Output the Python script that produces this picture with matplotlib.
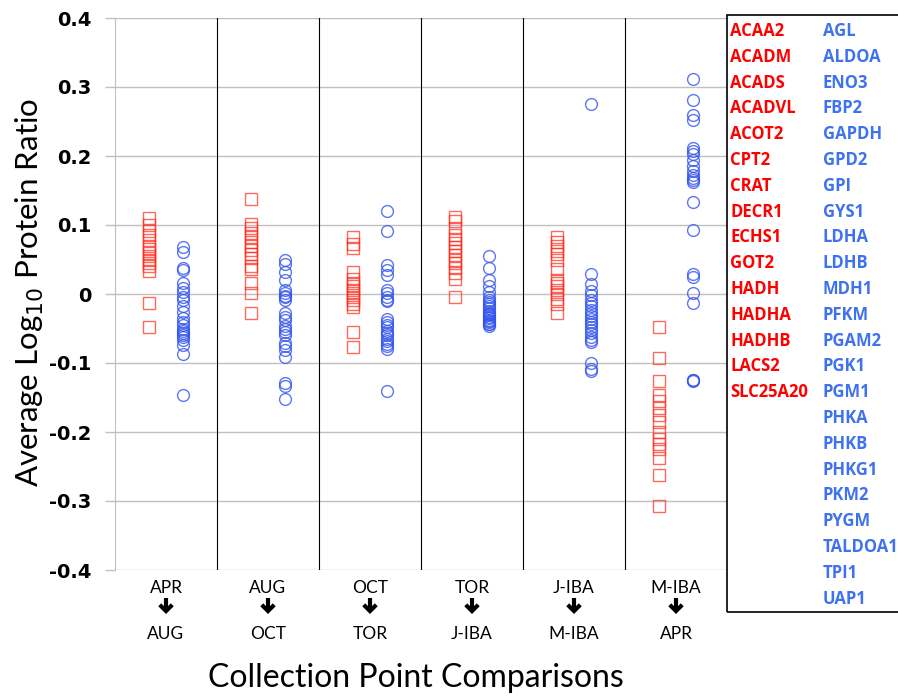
import matplotlib
matplotlib.use('Agg')
import matplotlib.pyplot as plt
from matplotlib.patches import Rectangle
import matplotlib.transforms as mtrans

# ---------------- data ----------------
comp_from = ["APR", "AUG", "OCT", "TOR", "J-IBA", "M-IBA"]
comp_to = ["AUG", "OCT", "TOR", "J-IBA", "M-IBA", "APR"]

red_genes = ["ACAA2", "ACADM", "ACADS", "ACADVL", "ACOT2", "CPT2", "CRAT", "DECR1",
             "ECHS1", "GOT2", "HADH", "HADHA", "HADHB", "LACS2", "SLC25A20"]
blue_genes = ["AGL", "ALDOA", "ENO3", "FBP2", "GAPDH", "GPD2", "GPI", "GYS1", "LDHA",
              "LDHB", "MDH1", "PFKM", "PGAM2", "PGK1", "PGM1", "PHKA", "PHKB", "PHKG1",
              "PKM2", "PYGM", "TALDOA1", "TPI1", "UAP1"]

red_apr_aug = [0.110, 0.100, 0.092, 0.085, 0.078, 0.070, 0.065, 0.060, 0.055, 0.050,
               0.045, 0.040, 0.033, -0.013, -0.048]
blue_apr_aug = [0.068, 0.061, 0.037, 0.035, 0.016, 0.008, 0.003, -0.004, -0.009, -0.018,
                -0.026, -0.035, -0.040, -0.045, -0.050, -0.054, -0.057, -0.060, -0.062,
                -0.067, -0.074, -0.087, -0.147]

red_aug_oct = [0.137, 0.102, 0.095, 0.088, 0.082, 0.076, 0.070, 0.064, 0.058, 0.052,
               0.040, 0.036, 0.016, 0.001, -0.028]
blue_aug_oct = [0.049, 0.043, 0.032, 0.021, 0.006, 0.001, -0.003, -0.005, -0.009, -0.028,
                -0.033, -0.038, -0.047, -0.050, -0.055, -0.059, -0.071, -0.076, -0.081,
                -0.091, -0.129, -0.134, -0.152]

red_oct_tor = [0.082, 0.072, 0.066, 0.032, 0.022, 0.016, 0.011, 0.006, 0.001, -0.004,
               -0.009, -0.014, -0.019, -0.055, -0.077]
blue_oct_tor = [0.120, 0.092, 0.042, 0.035, 0.028, 0.006, 0.001, -0.005, -0.008, -0.010,
                -0.036, -0.041, -0.045, -0.048, -0.053, -0.057, -0.060, -0.065, -0.068,
                -0.072, -0.076, -0.080, -0.140]

red_tor_jiba = [0.112, 0.106, 0.096, 0.085, 0.080, 0.074, 0.068, 0.063, 0.057, 0.050,
                0.045, 0.038, 0.031, 0.022, -0.005]
blue_tor_jiba = [0.055, 0.037, 0.021, 0.011, 0.003, -0.004, -0.008, -0.012, -0.015, -0.018,
                 -0.021, -0.024, -0.027, -0.029, -0.031, -0.033, -0.035, -0.037, -0.039,
                 -0.041, -0.043, -0.044, -0.046]

red_jiba_miba = [0.082, 0.076, 0.070, 0.063, 0.058, 0.050, 0.036, 0.020, 0.016, 0.012,
                 0.006, 0.000, -0.007, -0.014, -0.027]
blue_jiba_miba = [0.275, 0.029, 0.015, 0.004, -0.002, -0.008, -0.013, -0.018, -0.023,
                  -0.027, -0.032, -0.036, -0.040, -0.044, -0.048, -0.052, -0.057, -0.062,
                  -0.066, -0.070, -0.100, -0.108, -0.112]

red_miba_apr = [-0.048, -0.093, -0.126, -0.146, -0.155, -0.165, -0.175, -0.185, -0.200,
                -0.210, -0.217, -0.224, -0.238, -0.263, -0.307]
blue_miba_apr = [0.311, 0.281, 0.259, 0.252, 0.212, 0.207, 0.203, 0.194, 0.185, 0.178,
                 0.172, 0.168, 0.165, 0.162, 0.134, 0.093, 0.029, 0.025, 0.002, -0.013,
                 -0.124, -0.126, -0.125]

red_series = [red_apr_aug, red_aug_oct, red_oct_tor, red_tor_jiba, red_jiba_miba, red_miba_apr]
blue_series = [blue_apr_aug, blue_aug_oct, blue_oct_tor, blue_tor_jiba, blue_jiba_miba, blue_miba_apr]

yticks = [0.4, 0.3, 0.2, 0.1, 0.0, -0.1, -0.2, -0.3, -0.4]
ytick_labels = ["0.4", "0.3", "0.2", "0.1", "0", "-0.1", "-0.2", "-0.3", "-0.4"]

# ---------------- styling ----------------
RED = '#ff2a1a'
BLUE = '#3355ee'
RED_TXT = '#ff0000'
BLUE_TXT = '#3f72f0'
W, H = 898, 696

fig = plt.figure(figsize=(W / 100, H / 100), dpi=100)
ax = fig.add_axes([115 / W, 1 - 570 / H, (727 - 115) / W, (570 - 18) / H])

for i, (rv, bv) in enumerate(zip(red_series, blue_series)):
    g = i + 1
    ax.plot([g - 0.17] * len(rv), rv, linestyle='none', marker='s', markersize=8,
            markerfacecolor='none', markeredgecolor=RED, markeredgewidth=1.0, alpha=0.7)
    ax.plot([g + 0.165] * len(bv), bv, linestyle='none', marker='o', markersize=8.5,
            markerfacecolor='none', markeredgecolor=BLUE, markeredgewidth=1.0, alpha=0.8)

ax.set_xlim(0.5, 6.5)
ax.set_ylim(-0.4, 0.4)
ax.set_yticks(yticks)
ax.set_yticklabels(ytick_labels, fontfamily='DejaVu Sans', fontweight='bold', fontsize=14)
ax.yaxis.grid(True, color='#c0c0c0', linewidth=1.0)
ax.set_axisbelow(True)
ax.tick_params(axis='y', length=7, width=1, color='#c0c0c0', pad=10)
ax.set_xticks([])
for s in ['top', 'right', 'bottom']:
    ax.spines[s].set_visible(False)
ax.spines['left'].set_color('#c0c0c0')

for k in range(1, 6):
    ax.axvline(k + 0.5, color='black', linewidth=0.8)

# x category labels with arrows
trans = mtrans.blended_transform_factory(ax.transData, fig.transFigure)
for i, (a, b) in enumerate(zip(comp_from, comp_to)):
    g = i + 1
    ax.text(g, 1 - 588 / H, a, transform=trans, ha='center', va='center',
            fontfamily='Lato', fontsize=12.5)
    ax.text(g, 1 - 634 / H, b, transform=trans, ha='center', va='center',
            fontfamily='Lato', fontsize=12.5)
    ax.annotate('', xy=(g, 1 - 614 / H), xytext=(g, 1 - 598 / H),
                xycoords=trans, textcoords=trans,
                arrowprops=dict(arrowstyle='->,head_width=0.45,head_length=0.45',
                                color='black', linewidth=3.0, shrinkA=0, shrinkB=0,
                                joinstyle='miter', capstyle='butt'))

fig.text(416 / W, 1 - 678 / H, 'Collection Point Comparisons', ha='center', va='center',
         fontfamily='Lato', fontsize=23)
fig.text(30 / W, 1 - 292 / H, r'Average Log$_{10}$ Protein Ratio', ha='center', va='center',
         rotation=90, fontfamily='Lato', fontsize=22.5)

# gene list box
fig.patches.append(Rectangle((727 / W, 1 - 612 / H), (W - 727 + 5) / W, (612 - 15) / H,
                             transform=fig.transFigure, fill=False, edgecolor='black',
                             linewidth=1.2, clip_on=False))
step = 25.8
for j, name in enumerate(red_genes):
    fig.text(730 / W, 1 - (31 + j * step) / H, name, ha='left', va='center',
             color=RED_TXT, fontweight='bold', fontfamily='Open Sans', fontsize=12)
for j, name in enumerate(blue_genes):
    fig.text(823 / W, 1 - (31 + j * step) / H, name, ha='left', va='center',
             color=BLUE_TXT, fontweight='bold', fontfamily='Open Sans', fontsize=12)

fig.savefig('out.png', dpi=100)
